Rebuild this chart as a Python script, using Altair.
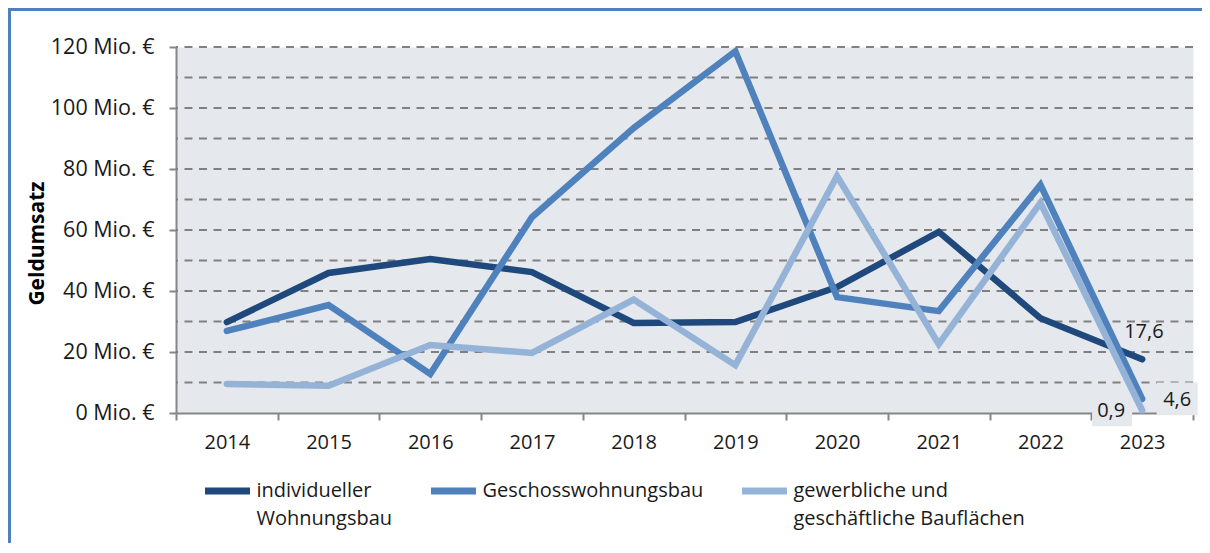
import altair as alt
import pandas as pd

years = ["2014", "2015", "2016", "2017", "2018", "2019", "2020", "2021", "2022", "2023"]
individueller = [29.8, 45.9, 50.5, 46.2, 29.5, 29.8, 41.3, 59.4, 31.1, 17.6]
geschoss = [26.9, 35.4, 12.8, 64.2, 93.4, 118.6, 38.0, 33.4, 74.8, 4.6]
gewerblich = [9.5, 8.9, 22.3, 19.7, 37.2, 15.7, 77.7, 22.6, 68.9, 0.9]
series_names = ["individueller Wohnungsbau", "Geschosswohnungsbau",
                "gewerbliche und geschäftliche Bauflächen"]
colors = ["#1F497D", "#4F81BD", "#95B3D7"]
grid_values = list(range(10, 130, 10))
y_ticks = list(range(0, 140, 20))
end_labels = ["17,6", "4,6", "0,9"]

FONT = "Open Sans"
BG = "#E5E9EE"
W, H = 1017, 366
PAD = {"left": 168, "top": 39, "right": 9, "bottom": 130}

rows = []
for name, vals in zip(series_names, [individueller, geschoss, gewerblich]):
    for i, (yr, v) in enumerate(zip(years, vals)):
        rows.append({"Jahr": yr, "Wert": v, "Serie": name, "ord": series_names.index(name)})
df = pd.DataFrame(rows)
grid_df = pd.DataFrame({"g": grid_values})
end_df = pd.DataFrame({"Jahr": [years[-1]] * 3,
                       "Wert": [individueller[-1], geschoss[-1], gewerblich[-1]],
                       "Serie": series_names, "txt": end_labels})

xscale = alt.Scale(type="band", domain=years, paddingInner=0, paddingOuter=0)
yscale = alt.Scale(domain=[0, 120], nice=False, zero=True)

x_axis = alt.Axis(title=None, labelAngle=0, labelAlign="center", bandPosition=0.5,
                  tickBand="extent", tickSize=7, tickWidth=2,
                  tickColor="#868686", domainColor="#868686", domainWidth=2,
                  labelFontSize=20, labelColor="#1a1a1a", labelPadding=22, grid=False)
y_axis = alt.Axis(title="Geldumsatz", values=y_ticks, labelExpr="datum.value + ' Mio. €'",
                  tickSize=7, tickWidth=2, tickColor="#868686", domainColor="#868686",
                  domainWidth=2, labelFontSize=21.5, labelColor="#1a1a1a", labelPadding=15,
                  grid=False, titleFontSize=21, titleFontWeight="bold", titleColor="#000000",
                  titleAngle=270, titleX=-133, titleY=196, titleAlign="center",
                  titleBaseline="alphabetic")

grid = alt.Chart(grid_df).mark_rule(color="#808080", strokeWidth=2, strokeDash=[8, 6.5]).encode(
    y=alt.Y("g:Q", scale=yscale, axis=y_axis)
)

legend_expr = ("datum.label == 'individueller Wohnungsbau' ? ['individueller', 'Wohnungsbau'] : "
               "datum.label == 'gewerbliche und geschäftliche Bauflächen' ? "
               "['gewerbliche und', 'geschäftliche Bauflächen'] : [datum.label, '']")

lines = alt.Chart(df).mark_line(strokeWidth=6.5, strokeCap="round", strokeJoin="miter").encode(
    x=alt.X("Jahr:O", scale=xscale, bandPosition=0.5, axis=x_axis),
    y=alt.Y("Wert:Q", scale=yscale, axis=y_axis),
    color=alt.Color("Serie:N", scale=alt.Scale(domain=series_names, range=colors),
                    legend=alt.Legend(title=None, orient="none", legendX=25.5, legendY=418,
                                      direction="horizontal", symbolType="stroke",
                                      symbolStrokeWidth=7, symbolSize=2025, labelFontSize=20,
                                      labelColor="#1a1a1a", labelLimit=400, labelOffset=3,
                                      columnPadding=24, padding=0, labelExpr=legend_expr)),
    order=alt.Order("ord:Q"),
)

box_shape = "M -1 -0.8 L 1 -0.8 L 1 0.8 L -1 0.8 Z"
boxes46 = alt.Chart(end_df).transform_filter(alt.datum.txt == "4,6").mark_point(
    shape=box_shape, filled=True, fill=BG, opacity=1, size=1681, xOffset=35, yOffset=0
).encode(x=alt.X("Jahr:O", scale=xscale, bandPosition=0.5), y=alt.Y("Wert:Q", scale=yscale))
boxes09 = alt.Chart(end_df).transform_filter(alt.datum.txt == "0,9").mark_point(
    shape="M -1 -0.4 L 1 -0.4 L 1 0.4 L -1 0.4 Z", filled=True, fill=BG, opacity=1, size=1600,
    xOffset=-30, yOffset=8
).encode(x=alt.X("Jahr:O", scale=xscale, bandPosition=0.5), y=alt.Y("Wert:Q", scale=yscale))

def end_text(label, dx, dy):
    return alt.Chart(end_df).transform_filter(alt.datum.txt == label).mark_text(
        align="left", baseline="alphabetic", dx=dx, dy=dy, fontSize=20, color="#1a1a1a", font=FONT
    ).encode(x=alt.X("Jahr:O", scale=xscale, bandPosition=0.5),
             y=alt.Y("Wert:Q", scale=yscale), text="txt:N")

t1 = end_text("17,6", -18, -21)
t2 = end_text("4,6", 21, 7)
t3 = end_text("0,9", -45, 7)

frame_top = alt.Chart(grid_df).mark_rule(color="#4F81BD", strokeWidth=3).encode(
    x=alt.value(-167), x2=alt.value(W + PAD["right"]), y=alt.value(-37.5))
frame_left = alt.Chart(grid_df).mark_rule(color="#4F81BD", strokeWidth=3).encode(
    x=alt.value(-166.5), y=alt.value(-39), y2=alt.value(H + PAD["bottom"]))

chart = alt.layer(grid, boxes09, boxes46, lines, t1, t2, t3, frame_top, frame_left).properties(
    width=W, height=H, padding=PAD, autosize=alt.AutoSizeParams(type="none"),
    background="white"
).configure(
    font=FONT,
    style={"guide-label": {"lineHeight": 28}},
    view=alt.ViewConfig(stroke="transparent", fill=BG),
)

chart.save("out.html", embed_options={"renderer": "svg", "actions": False})
